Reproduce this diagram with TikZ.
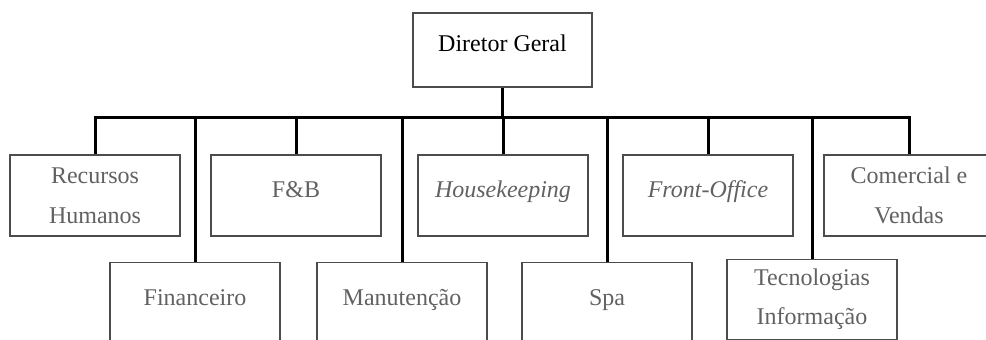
\documentclass[tikz,border=0pt]{standalone}
\usepackage{fontspec}
\setmainfont{Liberation Serif}
\usepackage{tikz}
\usetikzlibrary{positioning}

\tikzset{
    unit/.style={draw=black!70, line width=1.4pt, inner sep=0pt, align=center,
        minimum width=170pt, text=black!62, font=\fontsize{24}{40}\selectfont},
    toprow/.style={unit, minimum height=81pt},
    oneline/.style={text height=17pt, text depth=13pt},
    lowrow/.style={unit, anchor=north, text height=43pt, text depth=60pt},
    link/.style={line width=3pt, black}
}

\begin{document}
\begin{tikzpicture}[x=1pt, y=-1pt]
    \useasboundingbox (0,0) rectangle (986,340);
    \clip (0,0) rectangle (986,340);

    % Top of the chart
    \node[unit, minimum width=179pt, minimum height=74pt, text=black,
        text height=17pt, text depth=15pt] (dir) at (502.5,50) {Diretor Geral};

    % Upper row of departments
    \node[toprow] (rh) at (95,195.5) {Recursos\\Humanos};
    \node[toprow, oneline] (fb) at (296,195.5) {F\&B};
    \node[toprow, oneline] (hk) at (503,195.5) {\textit{Housekeeping}};
    \node[toprow, oneline] (fo) at (708,195.5) {\textit{Front-Office}};
    \node[toprow] (cv) at (909,195.5) {Comercial e\\Vendas};

    % Lower row of departments
    \node[lowrow] (fin) at (195,262) {Financeiro};
    \node[lowrow] (man) at (402,262) {Manutenção};
    \node[lowrow] (spa) at (607,262) {Spa};
    \node[unit, anchor=north, minimum height=80pt] (ti) at (812,259) {Tecnologias\\[-1pt]Informação};

    % Bus line
    \coordinate (bus) at (502.5,117);
    \draw[link] (dir.south) -- (bus);
    \foreach \dept in {rh, fin, fb, man, hk, spa, fo, ti, cv}
        \draw[link] (bus) -| (\dept.north);
\end{tikzpicture}
\end{document}
